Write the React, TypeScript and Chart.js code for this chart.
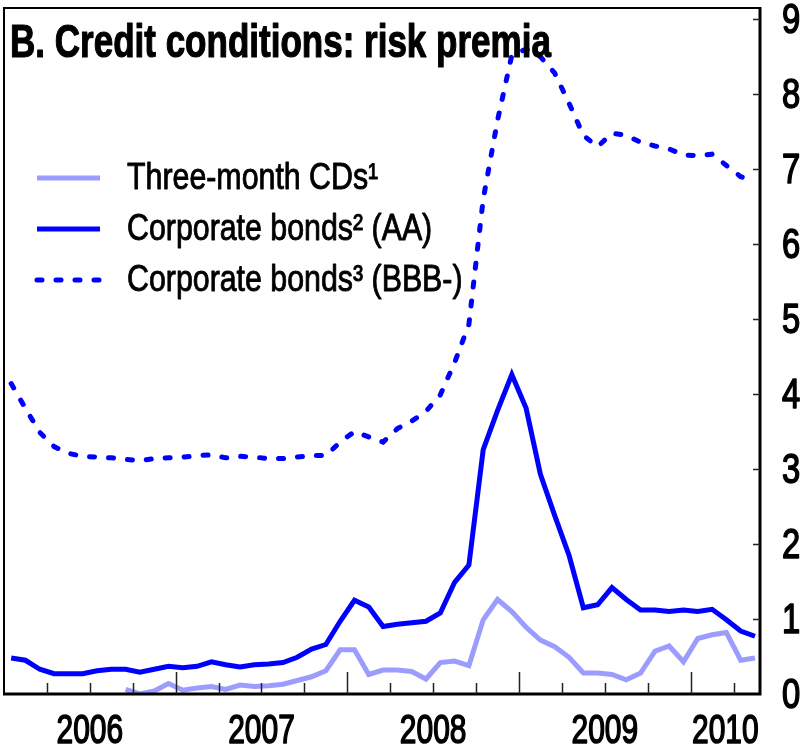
import React, { useEffect, useRef } from "react";
import { Chart, registerables } from "chart.js";

Chart.register(...registerables);

const months = [
  "Jan 2006", "Feb 2006", "Mar 2006", "Apr 2006", "May 2006", "Jun 2006", "Jul 2006", "Aug 2006", "Sep 2006", "Oct 2006", "Nov 2006", "Dec 2006",
  "Jan 2007", "Feb 2007", "Mar 2007", "Apr 2007", "May 2007", "Jun 2007", "Jul 2007", "Aug 2007", "Sep 2007", "Oct 2007", "Nov 2007", "Dec 2007",
  "Jan 2008", "Feb 2008", "Mar 2008", "Apr 2008", "May 2008", "Jun 2008", "Jul 2008", "Aug 2008", "Sep 2008", "Oct 2008", "Nov 2008", "Dec 2008",
  "Jan 2009", "Feb 2009", "Mar 2009", "Apr 2009", "May 2009", "Jun 2009", "Jul 2009", "Aug 2009", "Sep 2009", "Oct 2009", "Nov 2009", "Dec 2009",
  "Jan 2010", "Feb 2010", "Mar 2010", "Apr 2010", "May 2010",
];

const threeMonthCDs: (number | null)[] = [
  null, null, null, null, null, null, null, null, 0.06, 0.0,
  0.04, 0.14, 0.05, 0.08, 0.1, 0.06, 0.12, 0.1, 0.11, 0.13,
  0.18, 0.23, 0.31, 0.59, 0.59, 0.26, 0.32, 0.32, 0.3, 0.2,
  0.42, 0.44, 0.38, 0.99, 1.26, 1.1, 0.89, 0.72, 0.63, 0.49,
  0.28, 0.28, 0.26, 0.19, 0.28, 0.57, 0.64, 0.43, 0.74, 0.79,
  0.82, 0.45, 0.48,
];

const corporateAA = [
  0.48, 0.45, 0.33, 0.27, 0.27, 0.27, 0.31, 0.33, 0.33, 0.29,
  0.33, 0.37, 0.35, 0.37, 0.43, 0.39, 0.36, 0.39, 0.4, 0.42,
  0.49, 0.6, 0.66, 0.97, 1.25, 1.16, 0.9, 0.93, 0.95, 0.97,
  1.08, 1.49, 1.72, 3.26, 3.78, 4.26, 3.81, 2.93, 2.38, 1.85,
  1.15, 1.19, 1.42, 1.26, 1.12, 1.12, 1.1, 1.12, 1.1, 1.13,
  0.99, 0.84, 0.77,
];

const corporateBBB = [
  4.14, 3.81, 3.49, 3.3, 3.21, 3.17, 3.16, 3.15, 3.13, 3.11,
  3.14, 3.15, 3.16, 3.18, 3.19, 3.15, 3.17, 3.16, 3.14, 3.14,
  3.16, 3.18, 3.18, 3.36, 3.5, 3.43, 3.36, 3.54, 3.64, 3.77,
  3.99, 4.42, 4.93, 6.6, 7.65, 8.52, 8.6, 8.5, 8.28, 7.88,
  7.45, 7.3, 7.48, 7.45, 7.36, 7.31, 7.27, 7.19, 7.18, 7.2,
  7.05, 6.9, 6.84,
];

const seriesLabels = ["Three-month CDs¹", "Corporate bonds² (AA)", "Corporate bonds³ (BBB-)"];
const yearLabels = ["2006", "2007", "2008", "2009", "2010"];
const titleText = "B. Credit conditions: risk premia";

const FONT = '"Liberation Sans", Arial, sans-serif';

function drawText(
  ctx: CanvasRenderingContext2D,
  text: string,
  x: number,
  y: number,
  font: string,
  sx: number,
  align: CanvasTextAlign,
  baseline: CanvasTextBaseline,
  weight: number
) {
  ctx.save();
  ctx.font = font;
  ctx.fillStyle = "#000";
  ctx.strokeStyle = "#000";
  ctx.lineJoin = "round";
  ctx.textAlign = align;
  ctx.textBaseline = baseline;
  ctx.translate(x, y);
  ctx.scale(sx, 1);
  ctx.fillText(text, 0, 0);
  if (weight > 0) {
    ctx.lineWidth = weight;
    ctx.strokeText(text, 0, 0);
  }
  ctx.restore();
}

const framePlugin = {
  id: "framePlugin",
  afterDraw(chart: any) {
    const { ctx, chartArea: a, scales } = chart;
    const xs = scales.x;
    const ys = scales.y;
    ctx.save();
    ctx.strokeStyle = "#000";
    ctx.lineCap = "butt";
    // frame
    ctx.lineWidth = 2;
    ctx.beginPath();
    ctx.moveTo(a.left, a.bottom);
    ctx.lineTo(a.left, a.top);
    ctx.lineTo(a.right, a.top);
    ctx.stroke();
    ctx.lineWidth = 3;
    ctx.beginPath();
    ctx.moveTo(a.left - 1, a.bottom);
    ctx.lineTo(a.right + 1.5, a.bottom);
    ctx.moveTo(a.right, a.bottom);
    ctx.lineTo(a.right, a.top - 1);
    ctx.stroke();

    // x tick marks (inward)
    ctx.lineWidth = 1.5;
    ctx.strokeStyle = "#222";
    ctx.beginPath();
    for (const t of xs.ticks) {
      const v = t.value;
      if (v <= xs.min || v >= xs.max) continue;
      const px = Math.round(xs.getPixelForValue(v)) + 0.5;
      const len = v % 12 === 0 ? 22 : 11;
      ctx.moveTo(px, a.bottom);
      ctx.lineTo(px, a.bottom - len);
    }
    ctx.stroke();

    // y tick marks (inward) + labels
    ctx.beginPath();
    for (const t of ys.ticks) {
      const py = Math.round(ys.getPixelForValue(t.value)) + 0.5;
      if (t.value > ys.min) {
        ctx.moveTo(a.right, py);
        ctx.lineTo(a.right - 7, py);
      }
    }
    ctx.stroke();
    for (const t of ys.ticks) {
      if (Math.abs(t.value - Math.round(t.value)) > 1e-6) continue;
      const py = ys.getPixelForValue(t.value);
      drawText(ctx, String(t.value), a.right + 22, py + 2, `42px ${FONT}`, 0.78, "left", "middle", 1.6);
    }

    // year labels
    yearLabels.forEach((lab, i) => {
      const start = i * 12;
      const end = Math.min(start + 12, xs.max);
      const px = xs.getPixelForValue((start + end) / 2);
      drawText(ctx, lab, px, a.bottom + 38, `41px ${FONT}`, 0.73, "center", "middle", 1.6);
    });

    // title
    drawText(ctx, titleText, a.left + 6, a.top + 49, `bold 47px ${FONT}`, 0.745, "left", "alphabetic", 1.2);

    // legend
    chart.data.datasets.forEach((ds: any, i: number) => {
      const ry = a.top + 170 + i * 51;
      ctx.save();
      ctx.strokeStyle = ds.borderColor;
      ctx.lineWidth = ds.borderWidth;
      ctx.lineCap = ds.borderDash && ds.borderDash.length ? "round" : "butt";
      ctx.setLineDash(ds.borderDash || []);
      ctx.beginPath();
      ctx.moveTo(a.left + 33, ry);
      ctx.lineTo(a.left + 96, ry);
      ctx.stroke();
      ctx.restore();
      drawText(ctx, ds.label, a.left + 123, ry + 1, `37px ${FONT}`, 0.82, "left", "middle", 0.9);
    });
    ctx.restore();
  },
};

export default function App() {
  const ref = useRef<HTMLCanvasElement | null>(null);
  useEffect(() => {
    if (!ref.current) return;
    const toPts = (arr: (number | null)[]) => arr.map((v, i) => ({ x: i + 0.5, y: v }));
    const chart = new Chart(ref.current, {
      type: "line",
      data: {
        labels: months,
        datasets: [
          {
            label: seriesLabels[0],
            data: toPts(threeMonthCDs) as any,
            borderColor: "#9c9cff",
            borderWidth: 5,
            pointRadius: 0,
            tension: 0,
            spanGaps: false,
            order: 3,
          },
          {
            label: seriesLabels[1],
            data: toPts(corporateAA) as any,
            borderColor: "#0000ff",
            borderWidth: 5,
            pointRadius: 0,
            tension: 0,
            order: 2,
          },
          {
            label: seriesLabels[2],
            data: toPts(corporateBBB) as any,
            borderColor: "#0000ff",
            borderWidth: 5,
            borderDash: [5, 14],
            borderCapStyle: "round",
            pointRadius: 0,
            tension: 0,
            order: 1,
          },
        ],
      },
      options: {
        responsive: false,
        animation: false,
        events: [],
        layout: { padding: { left: 4, top: 8, right: 0, bottom: 0 } },
        plugins: {
          legend: { display: false },
          title: { display: false },
          tooltip: { enabled: false },
        },
        scales: {
          x: {
            type: "linear",
            min: 0,
            max: 52.85,
            grid: { display: false, drawTicks: false },
            border: { display: false },
            ticks: { display: false, stepSize: 3, includeBounds: false },
            afterFit(scale: any) {
              scale.height = 53;
            },
          },
          y: {
            position: "right",
            min: 0,
            max: 9.15,
            grid: { display: false, drawTicks: false },
            border: { display: false },
            ticks: { display: false, stepSize: 1, includeBounds: false },
            afterFit(scale: any) {
              scale.width = 44;
            },
          },
        },
      },
      plugins: [framePlugin],
    });
    return () => chart.destroy();
  }, []);
  return (
    <div style={{ position: "absolute", left: 0, top: 0, width: 804, height: 747, background: "#fff" }}>
      <canvas ref={ref} width={804} height={747} style={{ display: "block", width: 804, height: 747 }} />
    </div>
  );
}
